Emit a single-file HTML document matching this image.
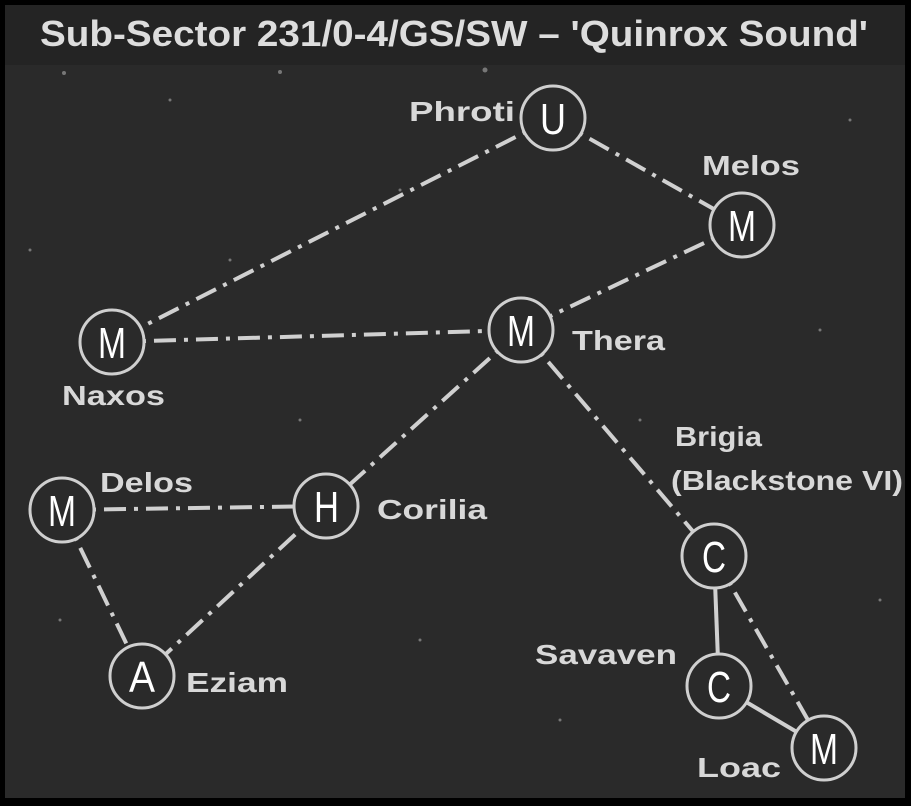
<!DOCTYPE html>
<html><head><meta charset="utf-8"><style>
html,body{margin:0;padding:0;background:#000}
svg{display:block}
.t{font-family:"Liberation Sans",sans-serif;fill:#ddd;font-weight:bold}
.n{font-family:"Liberation Sans",sans-serif;fill:#fff;font-size:44px;text-anchor:middle}
.l{font-family:"Liberation Sans",sans-serif;fill:#d8d8d8;font-weight:bold;font-size:28px}
</style></head><body>
<svg width="911" height="806" viewBox="0 0 911 806" xmlns="http://www.w3.org/2000/svg">
<rect width="911" height="806" fill="#000"/>
<rect x="5" y="5" width="900" height="60" fill="#242424"/>
<rect x="5" y="65" width="900" height="733" fill="#2a2a2a"/>
<g fill="#777">
<circle cx="64" cy="73" r="2"/><circle cx="280" cy="72" r="2"/><circle cx="485" cy="70" r="2.5"/><circle cx="170" cy="100" r="1.5"/><circle cx="400" cy="190" r="1.5"/><circle cx="850" cy="120" r="1.5"/><circle cx="230" cy="260" r="1.5"/><circle cx="640" cy="420" r="1.5"/><circle cx="880" cy="600" r="1.5"/><circle cx="60" cy="620" r="1.5"/><circle cx="420" cy="640" r="1.5"/><circle cx="300" cy="420" r="1.5"/><circle cx="820" cy="330" r="1.5"/><circle cx="30" cy="250" r="1.5"/><circle cx="560" cy="720" r="1.5"/>
</g>
<text class="t" x="40" y="46" font-size="36" textLength="828" lengthAdjust="spacingAndGlyphs">Sub-Sector 231/0-4/GS/SW – 'Quinrox Sound'</text>
<g stroke="#d0d0d0" stroke-width="4" fill="none" stroke-dasharray="22 8 4 8">
<line x1="553" y1="118" x2="112" y2="342"/>
<line x1="553" y1="118" x2="742" y2="225"/>
<line x1="742" y1="225" x2="521" y2="330"/>
<line x1="112" y1="342" x2="521" y2="330"/>
<line x1="521" y1="330" x2="326" y2="506"/>
<line x1="521" y1="330" x2="714" y2="556"/>
<line x1="62" y1="510" x2="326" y2="506"/>
<line x1="326" y1="506" x2="142" y2="676"/>
<line x1="62" y1="510" x2="142" y2="676"/>
<line x1="714" y1="556" x2="824" y2="748"/>
</g>
<g stroke="#d0d0d0" stroke-width="4">
<line x1="714" y1="556" x2="719" y2="686"/>
<line x1="719" y1="686" x2="824" y2="748"/>
</g>
<g fill="#2a2a2a" stroke="#cfcfcf" stroke-width="3">
<circle cx="553" cy="118" r="32"/><circle cx="742" cy="225" r="32"/><circle cx="521" cy="330" r="32"/><circle cx="112" cy="342" r="32"/><circle cx="62" cy="510" r="32"/><circle cx="326" cy="506" r="32"/><circle cx="142" cy="676" r="32"/><circle cx="714" cy="556" r="32"/><circle cx="719" cy="686" r="32"/><circle cx="824" cy="748" r="32"/>
</g>
<g class="n" lengthAdjust="spacingAndGlyphs">
<text x="540" y="134" textLength="26" lengthAdjust="spacingAndGlyphs" text-anchor="start">U</text>
<text x="728" y="241" textLength="28" lengthAdjust="spacingAndGlyphs" text-anchor="start">M</text>
<text x="507" y="346" textLength="28" lengthAdjust="spacingAndGlyphs" text-anchor="start">M</text>
<text x="98" y="358" textLength="28" lengthAdjust="spacingAndGlyphs" text-anchor="start">M</text>
<text x="48" y="526" textLength="28" lengthAdjust="spacingAndGlyphs" text-anchor="start">M</text>
<text x="314" y="522" textLength="25" lengthAdjust="spacingAndGlyphs" text-anchor="start">H</text>
<text x="129" y="692" textLength="26" lengthAdjust="spacingAndGlyphs" text-anchor="start">A</text>
<text x="702" y="572" textLength="24" lengthAdjust="spacingAndGlyphs" text-anchor="start">C</text>
<text x="707" y="702" textLength="24" lengthAdjust="spacingAndGlyphs" text-anchor="start">C</text>
<text x="810" y="764" textLength="28" lengthAdjust="spacingAndGlyphs" text-anchor="start">M</text>
</g>
<g class="l">
<text x="409" y="121" textLength="106" lengthAdjust="spacingAndGlyphs">Phroti</text>
<text x="702" y="175" textLength="98" lengthAdjust="spacingAndGlyphs">Melos</text>
<text x="572" y="350" textLength="93" lengthAdjust="spacingAndGlyphs">Thera</text>
<text x="62" y="405" textLength="103" lengthAdjust="spacingAndGlyphs">Naxos</text>
<text x="100" y="492" textLength="93" lengthAdjust="spacingAndGlyphs">Delos</text>
<text x="377" y="519" textLength="110" lengthAdjust="spacingAndGlyphs">Corilia</text>
<text x="186" y="692" textLength="102" lengthAdjust="spacingAndGlyphs">Eziam</text>
<text x="675" y="446" textLength="87" lengthAdjust="spacingAndGlyphs">Brigia</text>
<text x="671" y="490" textLength="232" lengthAdjust="spacingAndGlyphs">(Blackstone VI)</text>
<text x="535" y="664" textLength="142" lengthAdjust="spacingAndGlyphs">Savaven</text>
<text x="697" y="777" textLength="84" lengthAdjust="spacingAndGlyphs">Loac</text>
</g>
</svg>
</body></html>
